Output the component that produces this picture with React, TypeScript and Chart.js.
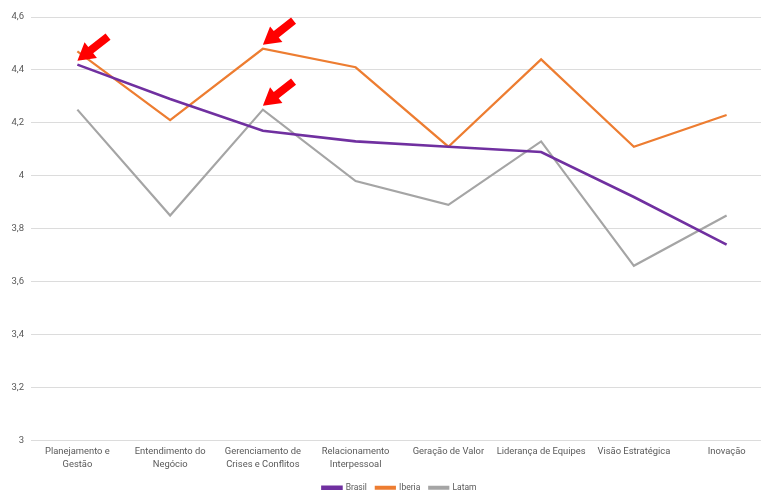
import React, { useEffect, useRef } from "react";
import { Chart, registerables } from "chart.js";

Chart.register(...registerables);

const categories: (string | string[])[] = [
  ["Planejamento e", "Gestão"],
  ["Entendimento do", "Negócio"],
  ["Gerenciamento de", "Crises e Conflitos"],
  ["Relacionamento", "Interpessoal"],
  "Geração de Valor",
  "Liderança de Equipes",
  "Visão Estratégica",
  "Inovação",
];

const brasil = [4.42, 4.29, 4.17, 4.13, 4.11, 4.09, 3.92, 3.74];
const iberia = [4.47, 4.21, 4.48, 4.41, 4.11, 4.44, 4.11, 4.23];
const latam = [4.25, 3.85, 4.25, 3.98, 3.89, 4.13, 3.66, 3.85];

const yTicks = [3, 3.2, 3.4, 3.6, 3.8, 4, 4.2, 4.4, 4.6];

// Highlight arrows: [dataset index, category index]
const highlights: [number, number][] = [
  [0, 0],
  [1, 2],
  [2, 2],
];

const arrowPlugin = {
  id: "highlightArrows",
  afterDatasetsDraw(chart: any) {
    const ctx = chart.ctx;
    ctx.save();
    ctx.fillStyle = "#ff0000";
    for (const [ds, idx] of highlights) {
      const el = chart.getDatasetMeta(ds).data[idx];
      const tipX = el.x;
      const tipY = el.y - 4;
      const ang = Math.atan2(-22, 28);
      const len = 39;
      const headLen = 17;
      const headW = 10;
      const shaftW = 4;
      ctx.translate(tipX, tipY);
      ctx.rotate(ang);
      ctx.beginPath();
      ctx.moveTo(0, 0);
      ctx.lineTo(headLen, -headW);
      ctx.lineTo(headLen, -shaftW);
      ctx.lineTo(len, -shaftW);
      ctx.lineTo(len, shaftW);
      ctx.lineTo(headLen, shaftW);
      ctx.lineTo(headLen, headW);
      ctx.closePath();
      ctx.fill();
      ctx.setTransform(1, 0, 0, 1, 0, 0);
    }
    ctx.restore();
  },
};

// Nudges the legend row slightly to the right of the canvas centre
const legendShift = {
  id: "legendShift",
  afterLayout(chart: any) {
    const lg = chart.legend;
    if (lg) {
      lg.left += 13;
      lg.right += 13;
    }
  },
};

export default function App() {
  const ref = useRef<HTMLCanvasElement | null>(null);

  useEffect(() => {
    document.body.style.margin = "0";
    const canvas = ref.current!;
    const chart = new Chart(canvas, {
      type: "line",
      data: {
        labels: categories,
        datasets: [
          {
            label: "Brasil",
            data: brasil,
            borderColor: "#7030A0",
            backgroundColor: "#7030A0",
            borderWidth: 2.6,
            pointRadius: 0,
            tension: 0,
          },
          {
            label: "Iberia",
            data: iberia,
            borderColor: "#ED7D31",
            backgroundColor: "#ED7D31",
            borderWidth: 2.2,
            pointRadius: 0,
            tension: 0,
          },
          {
            label: "Latam",
            data: latam,
            borderColor: "#A5A5A5",
            backgroundColor: "#A5A5A5",
            borderWidth: 2.2,
            pointRadius: 0,
            tension: 0,
          },
        ],
      },
      options: {
        animation: false,
        responsive: false,
        devicePixelRatio: 1,
        layout: { padding: { top: 17, left: 0, right: 0, bottom: 0 } },
        plugins: {
          tooltip: { enabled: false },
          legend: {
            position: "bottom",
            labels: {
              boxWidth: 19,
              boxHeight: 2,
              padding: 9,
              color: "#595959",
              font: { family: "Roboto", size: 8.5 },
            },
          },
        },
        scales: {
          x: {
            offset: true,
            grid: { display: false, drawTicks: false },
            border: { display: false },
            ticks: {
              color: "#595959",
              font: { family: "Roboto", size: 9.4, lineHeight: 1.38 },
              maxRotation: 0,
              autoSkip: false,
              padding: 5,
            },
            afterFit(scale: any) {
              scale.height = 34;
            },
          },
          y: {
            min: 3,
            max: 4.6,
            afterBuildTicks(scale: any) {
              scale.ticks = yTicks.map((v) => ({ value: v }));
            },
            grid: { color: "#dcdcdc", lineWidth: 1, drawTicks: false },
            border: { display: false },
            ticks: {
              color: "#595959",
              font: { family: "Roboto", size: 9.5 },
              padding: 7,
              callback: (v: any) => String(Math.round(Number(v) * 10) / 10).replace(".", ","),
            },
            afterFit(scale: any) {
              scale.width = 31;
            },
          },
        },
      },
      plugins: [arrowPlugin, legendShift],
    });
    return () => chart.destroy();
  }, []);

  return (
    <div style={{ position: "fixed", left: 0, top: 0, width: 761, height: 490, overflow: "hidden", background: "#fff" }}>
      <canvas ref={ref} width={773} height={502} style={{ display: "block" }} />
    </div>
  );
}
